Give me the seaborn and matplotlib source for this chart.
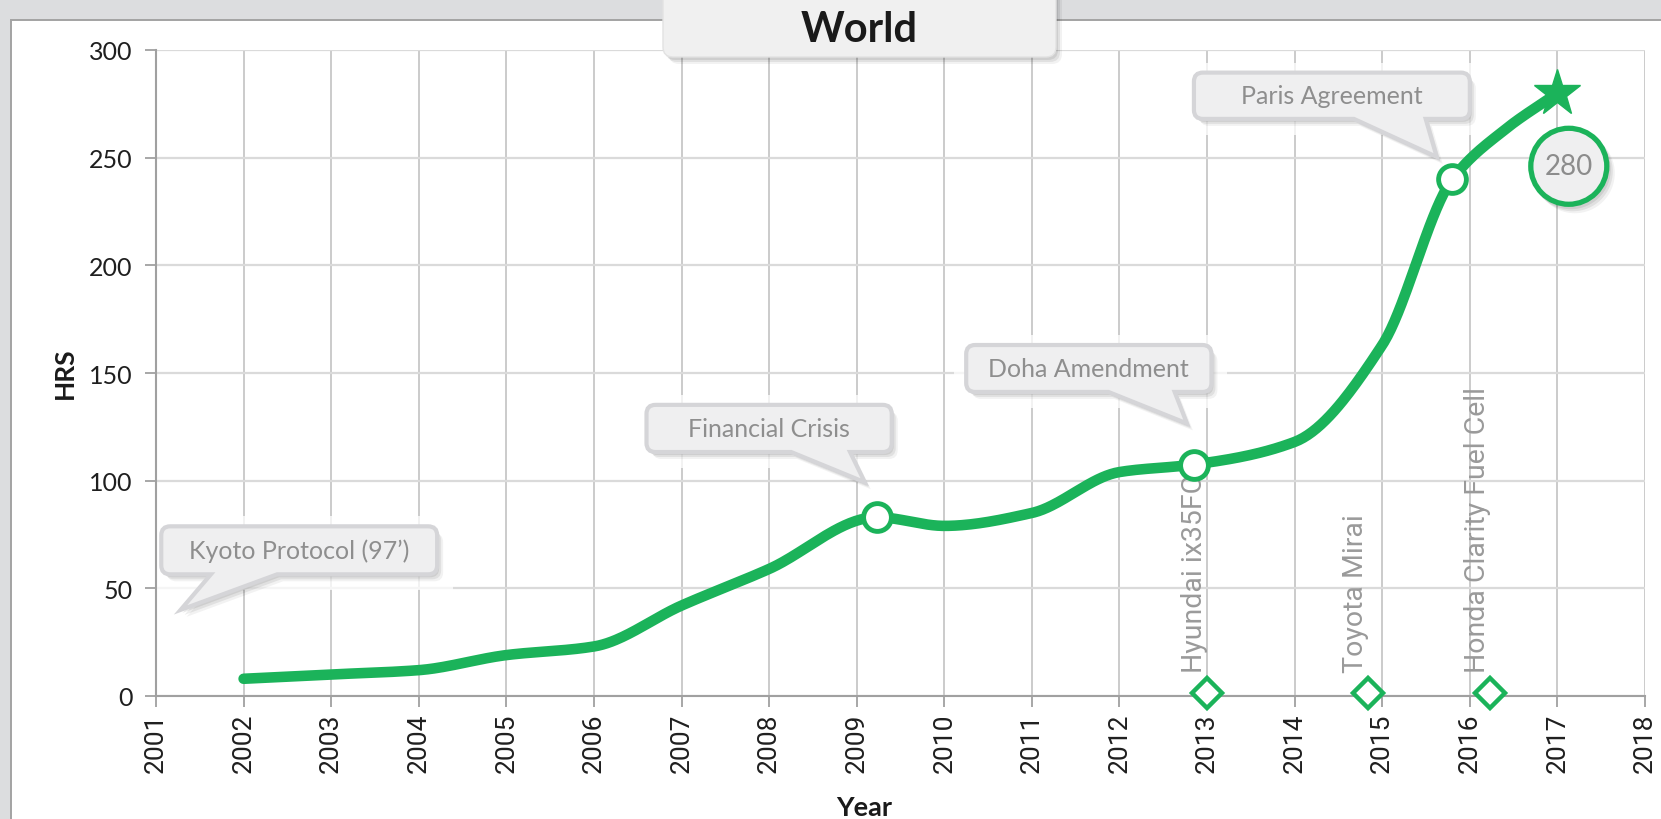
import numpy as np
import matplotlib
matplotlib.use("Agg")
import matplotlib.pyplot as plt
import matplotlib.transforms as mtransforms
from matplotlib.path import Path
from matplotlib.patches import PathPatch, Rectangle, Ellipse
import seaborn as sns

# values
years = [2002, 2003, 2004, 2005, 2006, 2007, 2008, 2009.23, 2010, 2011, 2012,
         2012.85, 2014, 2015, 2015.8, 2016.4, 2017]
hrs = [8, 10, 12, 19, 23, 42, 59, 83, 79, 85, 104, 107.5, 118, 163, 240, 263, 280]

milestone_years = [2009.23, 2012.85, 2015.8]
milestone_hrs = [83, 107.5, 240]
milestone_labels = ["Financial Crisis", "Doha Amendment", "Paris Agreement"]
kyoto_label = "Kyoto Protocol (97’)"

car_years = [2013.0, 2014.84, 2016.23]
car_names = ["Hyundai ix35FC", "Toyota Mirai", "Honda Clarity Fuel Cell"]

last_year = 2017
last_value = 280

year_ticks = list(range(2001, 2019))
hrs_ticks = [0, 50, 100, 150, 200, 250, 300]

GREEN = "#1bb35a"
W, H = 1661, 820
ARIAL_LIKE = ["Roboto", "DejaVu Sans"]


def smooth(xs, ys, n=40):
    # monotone cubic (Fritsch-Carlson) through the read points
    x = np.asarray(xs, float)
    y = np.asarray(ys, float)
    h = np.diff(x)
    d = np.diff(y) / h
    m = np.zeros_like(y)
    m[0], m[-1] = d[0], d[-1]
    for i in range(1, len(x) - 1):
        if d[i - 1] * d[i] > 0:
            w1 = 2 * h[i] + h[i - 1]
            w2 = h[i] + 2 * h[i - 1]
            m[i] = (w1 + w2) / (w1 / d[i - 1] + w2 / d[i])
    px, py = [], []
    t = np.linspace(0, 1, n, endpoint=False)
    for i in range(len(x) - 1):
        h00 = 2 * t ** 3 - 3 * t ** 2 + 1
        h10 = t ** 3 - 2 * t ** 2 + t
        h01 = -2 * t ** 3 + 3 * t ** 2
        h11 = t ** 3 - t ** 2
        px.append(x[i] + t * h[i])
        py.append(h00 * y[i] + h10 * h[i] * m[i] + h01 * y[i + 1] + h11 * h[i] * m[i + 1])
    px.append([x[-1]])
    py.append([y[-1]])
    return np.concatenate(px), np.concatenate(py)


def round_box(L, R, B, T, r, tail=None):
    w, h = R - L, T - B
    M, Ln, C, X = Path.MOVETO, Path.LINETO, Path.CURVE3, Path.CLOSEPOLY
    v = [(L + r, T), (R - r, T), (R, T), (R, T - r), (R, B + r), (R, B), (R - r, B)]
    c = [M, Ln, C, C, Ln, C, C]
    if tail:
        bl, br, tx, drop = tail
        v += [(L + br * w, B), (L + tx * w, B - drop * h), (L + bl * w, B)]
        c += [Ln, Ln, Ln]
    v += [(L + r, B), (L, B), (L, B + r), (L, T - r), (L, T), (L + r, T), (L + r, T)]
    c += [Ln, C, C, Ln, C, C, X]
    return Path(v, c)


def add_shadowed(target, path, fc, ec, lw, z):
    ident = mtransforms.IdentityTransform()
    for dx, dy, a in [(2, -3, 0.08), (4, -5, 0.07), (6, -7, 0.05)]:
        target.add_artist(PathPatch(path.transformed(mtransforms.Affine2D().translate(dx, dy)),
                                    fc="black", ec="none", alpha=a, transform=ident,
                                    zorder=z - 0.1, clip_on=False))
    target.add_artist(PathPatch(path, fc=fc, ec=ec, lw=lw, transform=ident,
                                zorder=z, clip_on=False))


def callout(ax, x0, x1, y0, y1, tail, text):
    L, B = ax.transData.transform((x0, y0))
    R, T = ax.transData.transform((x1, y1))
    ax.add_artist(Rectangle((L - 12, B - 16), R - L + 28, T - B + 26, fc="white", ec="none",
                            alpha=0.75, transform=mtransforms.IdentityTransform(), zorder=2.5))
    add_shadowed(ax, round_box(L, R, B, T, 9, tail), "#efeff0", "#d5d5d8", 3, 4)
    ax.text((x0 + x1) / 2, (y0 + y1) / 2, text, ha="center", va="center",
            fontsize=18, color="#8e8e8e", zorder=5)


sns.set_theme(style="whitegrid")
plt.rcParams["font.family"] = ["Lato", "DejaVu Sans"]

fig = plt.figure(figsize=(W / 100, H / 100), dpi=100, facecolor="#dcdddf")
fig.add_artist(Rectangle((11, -10), 1700, H - 21 + 10, fc="white", ec="#a3a3a3", lw=1.4,
                         transform=mtransforms.IdentityTransform(), zorder=-1))

ax = fig.add_axes([156 / W, 123 / H, 1489 / W, 646 / H])
ax.set_facecolor("white")
ax.set_xlim(2001, 2018)
ax.set_ylim(0, 300)
ax.set_autoscale_on(False)

ax.set_axisbelow(True)
ax.xaxis.grid(True, color="#bdbdbd", lw=1.1)
ax.yaxis.grid(True, color="#dadada", lw=1.6)
for s in ["top", "right"]:
    ax.spines[s].set_visible(False)
for s in ["left", "bottom"]:
    ax.spines[s].set_color("#a0a0a0")
    ax.spines[s].set_linewidth(1.5)

ax.set_xticks(year_ticks)
ax.set_xticklabels([str(y) for y in year_ticks], rotation=90, fontsize=19,
                   family=ARIAL_LIKE, color="#1f1f1f")
ax.set_yticks(hrs_ticks)
ax.set_yticklabels([str(v) for v in hrs_ticks], fontsize=18, color="#1f1f1f")
ax.tick_params(axis="x", bottom=True, length=8, width=1.3, color="#a0a0a0", pad=4)
ax.tick_params(axis="y", left=True, length=8, width=1.3, color="#a0a0a0", pad=9)
ax.set_xlabel("")
ax.set_ylabel("")

# smoothed series line
sx, sy = smooth(years, hrs)
sns.lineplot(x=sx, y=sy, sort=False, estimator=None, ax=ax,
             color=GREEN, lw=7.6, solid_capstyle="round", zorder=6)

ax.plot(milestone_years, milestone_hrs, "o", ms=20, mfc="white", mec=GREEN, mew=3.5,
        zorder=7, clip_on=False)
ax.plot([last_year], [last_value], "*", ms=35, color=GREEN, mec=GREEN, zorder=7, clip_on=False)

# car launches
ax.plot(car_years, [1.5] * len(car_years), "D", ms=15, mfc="white", mec=GREEN, mew=3.2,
        zorder=7, clip_on=False)
for cy, name in zip(car_years, car_names):
    ax.text(cy - 0.14, 11, name, rotation=90, ha="center", va="bottom", fontsize=20.5,
            family=ARIAL_LIKE, color="#9a9a9a", zorder=5)

# callouts
callout(ax, 2001.06, 2004.21, 56.5, 78.8, (0.18, 0.42, 0.07, 0.74), kyoto_label)
callout(ax, 2006.6, 2009.4, 113.3, 135.2, (0.59, 0.83, 0.89, 0.64), milestone_labels[0])
callout(ax, 2010.25, 2013.05, 141.2, 163.0, (0.58, 0.85, 0.90, 0.67), milestone_labels[1])
callout(ax, 2012.85, 2016.0, 268.0, 289.5, (0.58, 0.84, 0.88, 0.82), milestone_labels[2])

# end value bubble
cx, cy_ = ax.transData.transform((2017.13, 246))
for dx, dy, a in [(2, -3, 0.08), (4, -5, 0.07), (6, -7, 0.05)]:
    ax.add_artist(Ellipse((cx + dx, cy_ + dy), 80, 80, fc="black", ec="none", alpha=a,
                          transform=mtransforms.IdentityTransform(), zorder=7.9, clip_on=False))
ax.add_artist(Ellipse((cx, cy_), 76, 76, fc="#efeff0", ec=GREEN, lw=3.8,
                      transform=mtransforms.IdentityTransform(), zorder=8, clip_on=False))
ax.text(2017.13, 246, str(last_value), ha="center", va="center", fontsize=20,
        color="#8c8c8c", zorder=9)

# title tab
add_shadowed(fig, round_box(663, 1056, H - 58, H + 20, 10), "#f0f0f0", "#e2e2e2", 1, 10)
fig.text(859 / W, 1 - 30 / H, "World", ha="center", va="center", fontsize=30,
         fontweight="bold", color="#1a1a1a", zorder=11)

fig.text(64.5 / W, 1 - 373 / H, "HRS", rotation=90, ha="center", va="center",
         fontsize=19, fontweight="bold", color="#1a1a1a")
fig.text(864 / W, 4 / H, "Year", ha="center", va="baseline",
         fontsize=19.5, fontweight="bold", color="#1a1a1a")

fig.savefig("out.png", dpi=100, facecolor=fig.get_facecolor())
